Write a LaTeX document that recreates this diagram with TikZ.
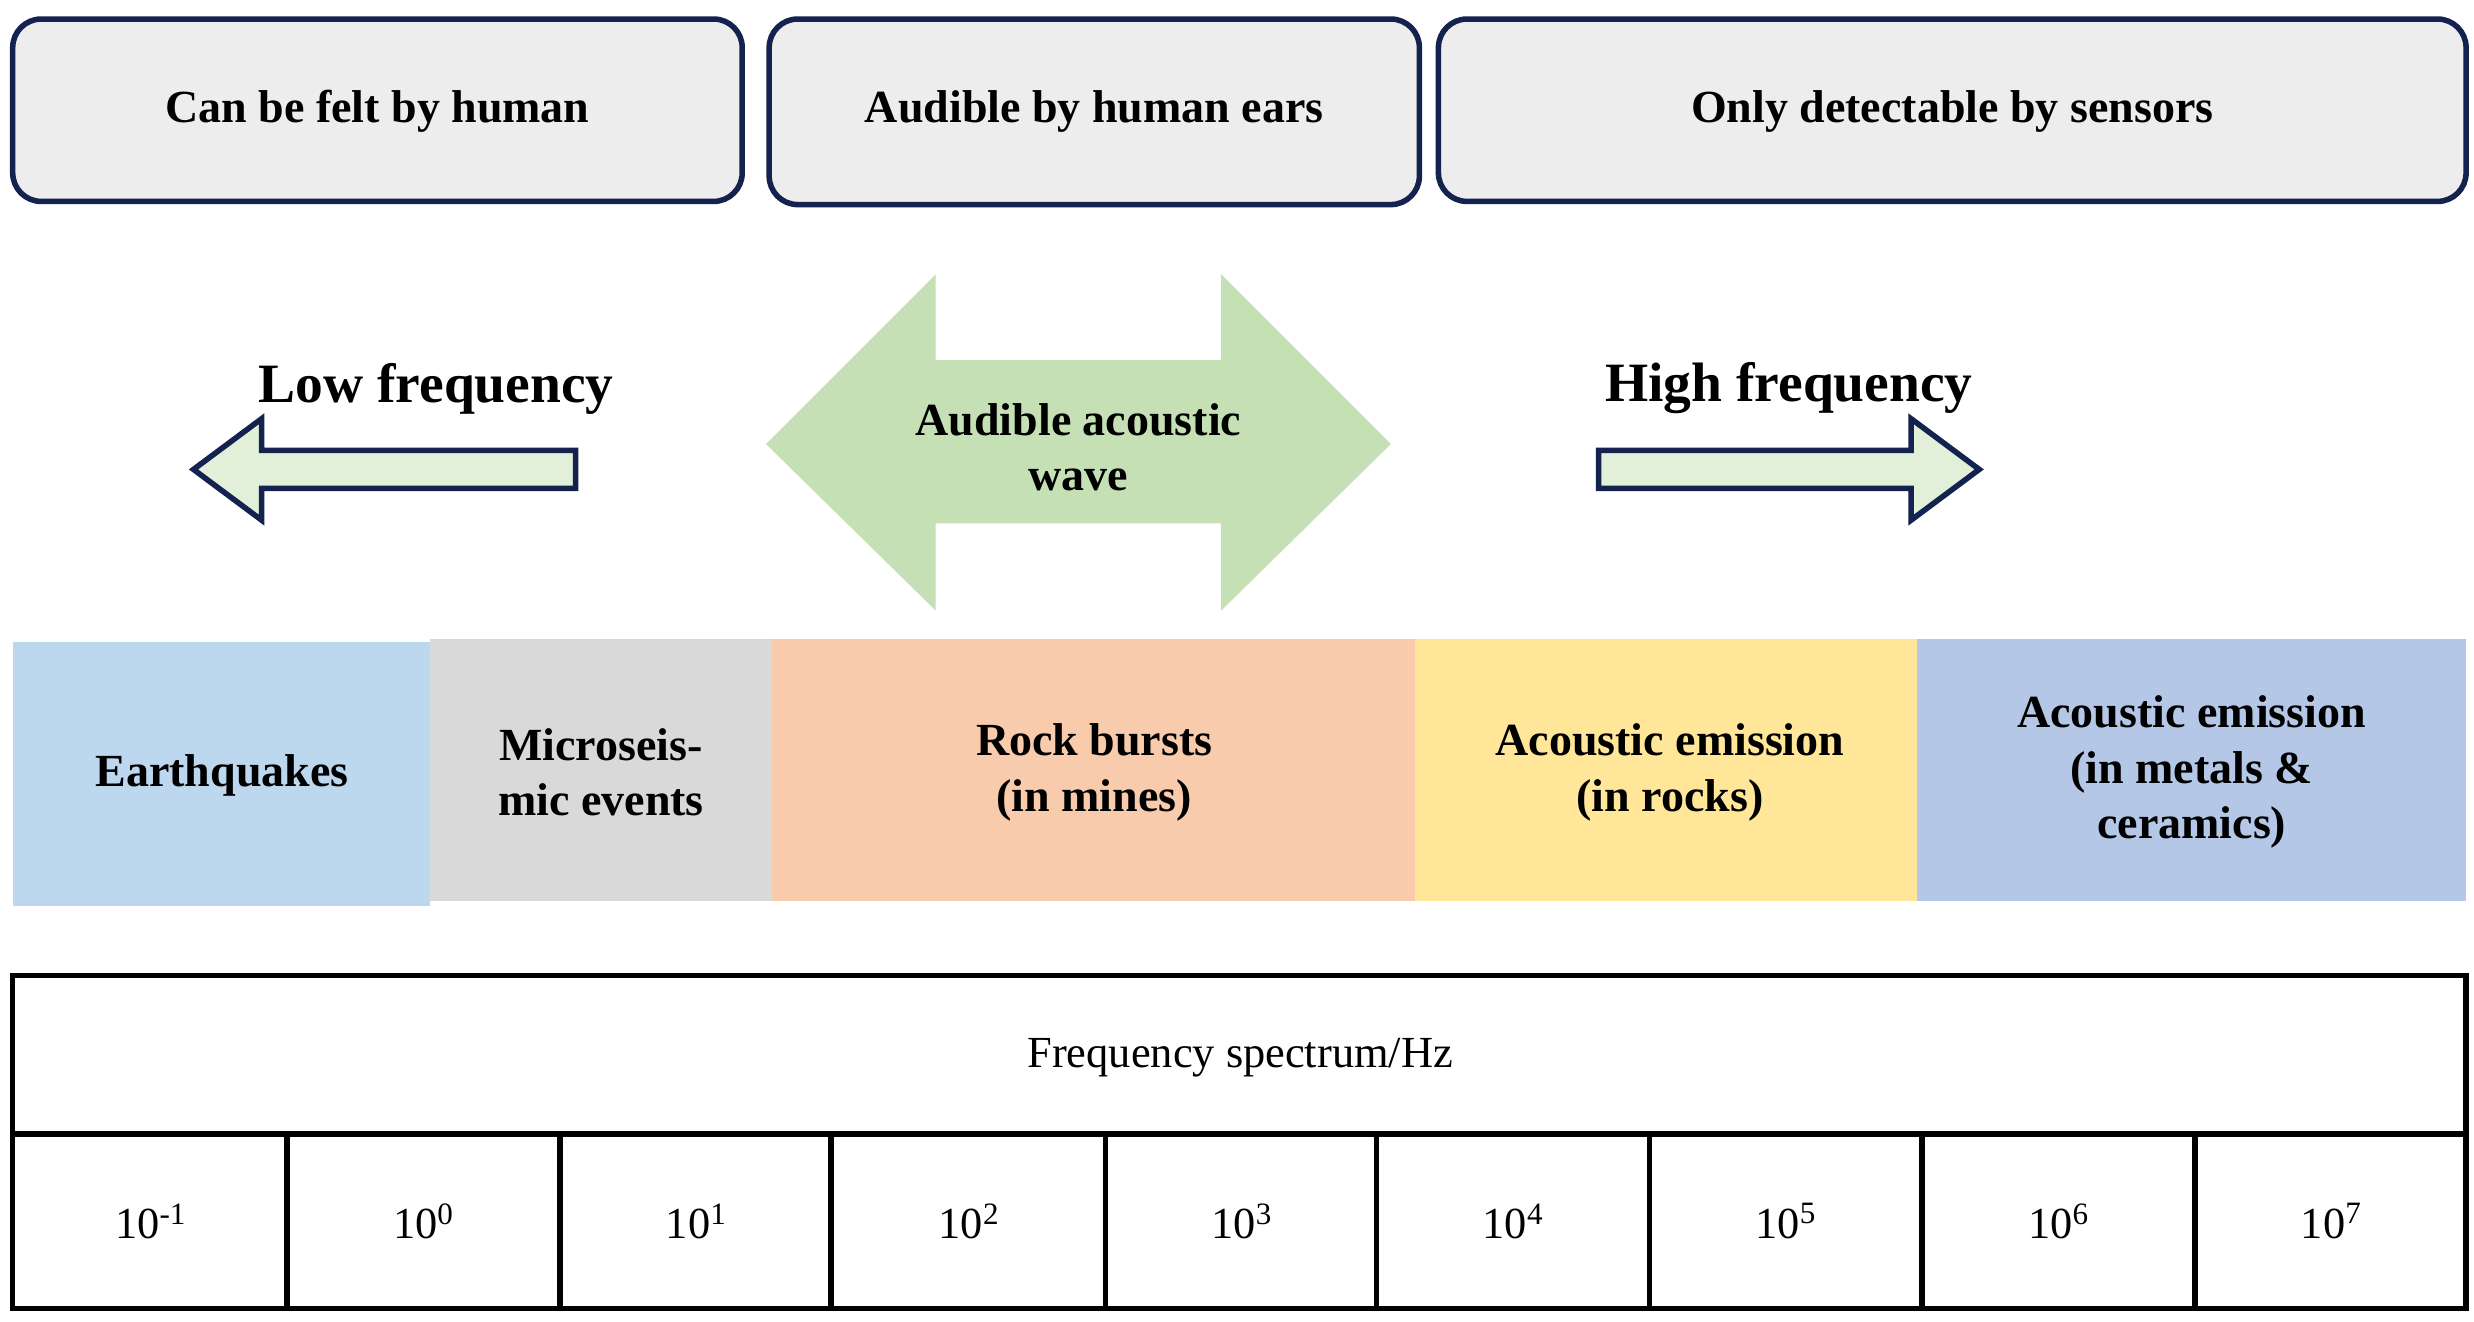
\documentclass[tikz,border=0pt]{standalone}
\usepackage{fontspec}
\setmainfont{Liberation Serif}
\begin{document}
\begin{tikzpicture}[x=1pt,y=-1pt,
  topbox/.style={draw=navy,fill=boxgray,line width=3.5pt,rounded corners=18pt},
  lbl/.style={font=\fontsize{29}{35}\selectfont\bfseries,align=center},
  big/.style={font=\fontsize{35}{40}\selectfont\bfseries},
  num/.style={font=\fontsize{28}{32}\selectfont},
  garrow/.style={draw=navy,fill=lgreen,line width=3.5pt,line join=miter}]
\definecolor{navy}{HTML}{13224F}
\definecolor{boxgray}{HTML}{EDEDED}
\definecolor{lgreen}{HTML}{E2F0D9}
\definecolor{mgreen}{HTML}{C5E0B4}
\useasboundingbox (0,0) rectangle (1560,833);
% top boxes
\draw[topbox] (8,12) rectangle (468,127);
\node[lbl] (t1) at (238,70) {Can be felt by human};
\draw[topbox] (485,12) rectangle (895,129);
\node[lbl] (t2) at (690,70) {Audible by human ears};
\draw[topbox] (907,12) rectangle (1555,127);
\node[lbl] (t3) at (1231,70) {Only detectable by sensors};
% arrows
\draw[garrow] (363,284) -- (165,284) -- (165,264) -- (122,296) -- (165,328) -- (165,308) -- (363,308) -- cycle;
\draw[garrow] (1008,284) -- (1205,284) -- (1205,264) -- (1248,296) -- (1205,328) -- (1205,308) -- (1008,308) -- cycle;
\fill[mgreen] (483,280) -- (590,173) -- (590,227) -- (770,227) -- (770,173) -- (877,280) -- (770,385) -- (770,330) -- (590,330) -- (590,385) -- cycle;
\node[lbl] (aw) at (680,282) {Audible acoustic\\wave};
\node[big] (lf) at (275,245) {Low frequency};
\node[big] (hf) at (1128,245) {High frequency};
% bands
\fill[fill={rgb,255:red,189;green,215;blue,238}] (8,405) rectangle (271,571);
\fill[fill={rgb,255:red,217;green,217;blue,217}] (271,403) rectangle (487,568);
\fill[fill={rgb,255:red,248;green,203;blue,173}] (487,403) rectangle (892,568);
\fill[fill={rgb,255:red,255;green,230;blue,153}] (892,403) rectangle (1209,568);
\fill[fill={rgb,255:red,180;green,199;blue,231}] (1209,403) rectangle (1555,568);
\node[lbl] (b1) at (140,489) {Earthquakes};
\node[lbl] (b2) at (379,487) {Microseis-\\mic events};
\node[lbl] (b3) at (690,487) {Rock bursts\\(in mines)};
\node[lbl] (b4) at (1053,487) {Acoustic emission\\(in rocks)};
\node[lbl] (b5) at (1382,487) {Acoustic emission\\(in metals \&\\ceramics)};
% table
\draw[line width=3.5pt] (8,615) rectangle (1555,825);
\draw[line width=3.5pt] (8,715) -- (1555,715);
\foreach \x in {181,353,524,697,868,1040,1212,1384} \draw[line width=3.5pt] (\x,715) -- (\x,825);
\node[num] (ft) at (782,667) {Frequency spectrum/Hz};
\foreach \e/\x [count=\i] in {-1/95,0/267,1/439,2/611,3/783,4/954,5/1126,6/1298,7/1470}
  \node[num] (c\i) at (\x,770) {10\textsuperscript{\e}};
\end{tikzpicture}
\end{document}
